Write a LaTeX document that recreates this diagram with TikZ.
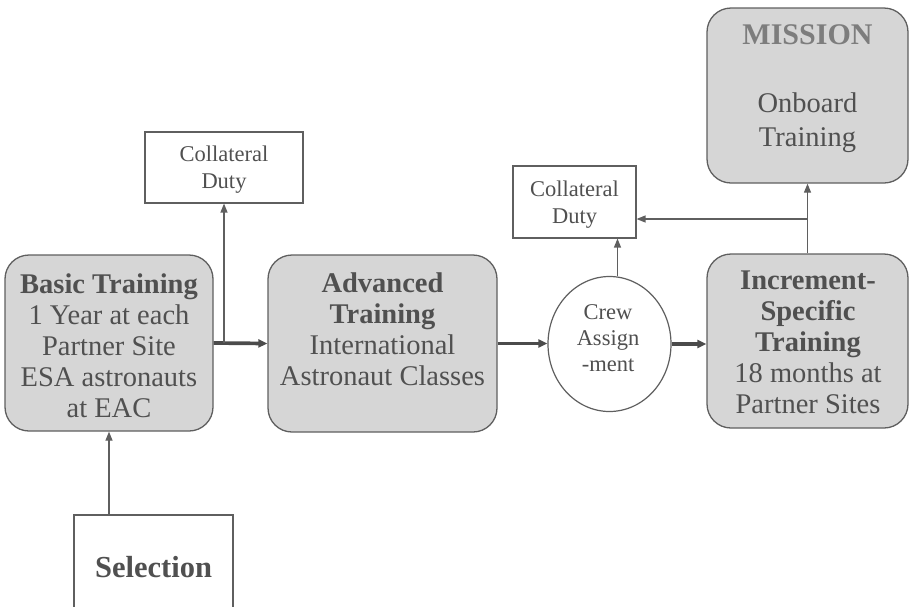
\documentclass[tikz,border=0pt]{standalone}
\usepackage{fontspec}
\setmainfont{Liberation Serif}
\usetikzlibrary{arrows.meta,shapes.geometric}

\definecolor{boxgray}{RGB}{214,214,214}
\definecolor{inkgray}{RGB}{80,80,80}
\definecolor{titlegray}{RGB}{125,125,125}
\definecolor{linegray}{RGB}{95,95,95}
\definecolor{darkline}{RGB}{75,75,75}

\begin{document}
\begin{tikzpicture}[x=1pt,y=-1pt,
  stagebox/.style={draw=linegray,line width=1.3pt,fill=boxgray,rounded corners=24pt,inner sep=0pt},
  dutybox/.style={draw=linegray,line width=1.1pt,fill=white,inner sep=0pt},
  bigtxt/.style={text=inkgray,align=center,inner sep=0pt,font=\fontsize{28.5}{31}\selectfont},
  smalltxt/.style={text=inkgray,align=center,inner sep=0pt,font=\fontsize{22.5}{27}\selectfont},
  flowthin/.style={draw=linegray,line width=1.2pt,-{Triangle[length=9pt,width=7pt]}},
  flowthick/.style={draw=darkline,line width=3.7pt,-{Triangle[length=9pt,width=8pt]}}]

\useasboundingbox (0,0) rectangle (909,606);
\clip (0,0) rectangle (909,606);

% boxes
\node[stagebox,minimum width=208pt,minimum height=176pt] (basic) at (109,343) {};
\node[stagebox,minimum width=229pt,minimum height=177pt] (adv) at (382.5,343.5) {};
\node[draw=linegray,line width=1.2pt,fill=white,ellipse,inner sep=0pt,
      minimum width=123pt,minimum height=135pt] (crew) at (609.5,344) {};
\node[stagebox,minimum width=201pt,minimum height=174pt] (inc) at (807.5,341) {};
\node[stagebox,minimum width=201pt,minimum height=175pt] (mission) at (807.5,95.5) {};
\node[dutybox,minimum width=158pt,minimum height=71pt] (cd1) at (224,167.5) {};
\node[dutybox,minimum width=123pt,minimum height=72pt] (cd2) at (574.5,202) {};
\node[dutybox,minimum width=159pt,minimum height=100pt] (sel) at (153.5,565) {};

% texts
\node[bigtxt] (basictxt) at (109,345.5) {\textbf{Basic Training}\\1 Year at each\\Partner Site\\ESA astronauts\\at EAC};
\node[bigtxt] (advtxt) at (382.5,329.5) {\textbf{Advanced}\\\textbf{Training}\\International\\Astronaut Classes};
\node[smalltxt,font=\fontsize{22.5}{26}\selectfont] (crewtxt) at (608,338.5) {Crew\\Assign\\-ment};
\node[bigtxt] (inctxt) at (808,342) {\textbf{Increment-}\\\textbf{Specific}\\\textbf{Training}\\18 months at\\Partner Sites};
\node[bigtxt,font=\fontsize{28.5}{34}\selectfont] (missiontxt) at (807.5,89)
  {{\color{titlegray}\fontsize{30}{34}\selectfont\textbf{MISSION}}\\[34pt]Onboard\\Training};
\node[smalltxt] (cd1txt) at (224,169.5) {Collateral\\Duty};
\node[smalltxt] (cd2txt) at (574.5,204.5) {Collateral\\Duty};
\node[bigtxt,font=\fontsize{30.5}{34}\selectfont] (seltxt) at (153.5,567.5) {\textbf{Selection}};

% connectors
\coordinate (j1) at (cd1.south |- basic.east);
\coordinate (j2) at (807.5,219);

\draw[flowthick] (basic.east) -- (adv.west);
\draw[flowthin] (j1) -- (cd1.south);
\draw[flowthick] (adv.east) -- (adv.east -| crew.west);
\draw[flowthick] (crew.east) -- (crew.east -| inc.west);
\draw[flowthin] ([xshift=8pt]crew.north) -- ([xshift=8pt]crew.north |- cd2.south);
\draw[flowthin] (inc.north) -- (mission.south);
\draw[flowthin] (j2) -- (j2 -| cd2.east);
\draw[flowthin] (sel.north -| 109,0) -- (basic.south);

\end{tikzpicture}
\end{document}
